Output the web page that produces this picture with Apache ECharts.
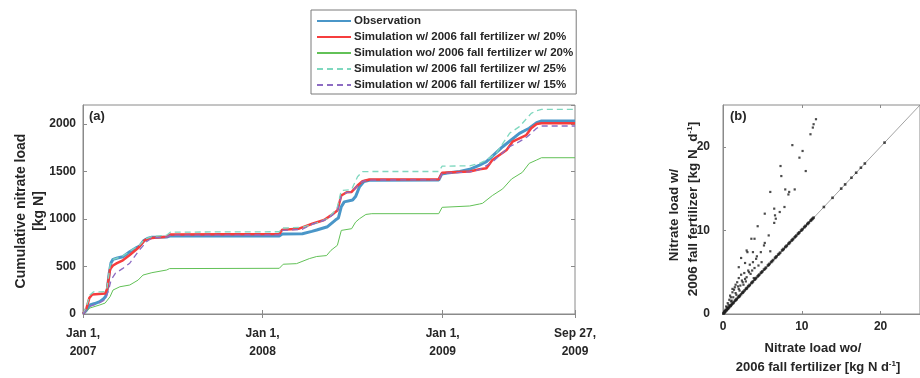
<!DOCTYPE html>
<html>
<head>
<meta charset="utf-8">
<script src="https://cdn.jsdelivr.net/npm/echarts@6/dist/echarts.min.js"></script>
<style>
  html, body { margin: 0; padding: 0; background: #fff; }
  #chart { width: 920px; height: 378px; }
</style>
</head>
<body>
<div id="chart"></div>
<script>
// ---- Panel (a): cumulative nitrate load [kg N], [date, value] ----
const observation = [
  ['2007-01-01', 0], ['2007-01-08', 40], ['2007-01-15', 95], ['2007-01-25', 110],
  ['2007-02-04', 130], ['2007-02-12', 160], ['2007-02-16', 185], ['2007-02-19', 240],
  ['2007-02-23', 420], ['2007-02-27', 540], ['2007-03-03', 575], ['2007-03-12', 590],
  ['2007-03-23', 603], ['2007-04-06', 656], ['2007-04-20', 700], ['2007-04-26', 715],
  ['2007-05-04', 770], ['2007-05-12', 795], ['2007-05-21', 808], ['2007-06-20', 810],
  ['2007-06-28', 822], ['2008-02-04', 822], ['2008-02-10', 842], ['2008-03-22', 845],
  ['2008-04-10', 870], ['2008-04-20', 884], ['2008-05-12', 919], ['2008-05-28', 989],
  ['2008-06-03', 1010], ['2008-06-09', 1129], ['2008-06-15', 1180], ['2008-07-02', 1200],
  ['2008-07-08', 1236], ['2008-07-16', 1340], ['2008-07-25', 1395], ['2008-08-05', 1408],
  ['2008-12-24', 1410], ['2008-12-30', 1472], ['2009-01-10', 1485], ['2009-02-05', 1500],
  ['2009-02-25', 1523], ['2009-03-17', 1568], ['2009-03-31', 1603], ['2009-05-03', 1761],
  ['2009-06-06', 1902], ['2009-06-26', 1955], ['2009-07-11', 2015], ['2009-07-21', 2032],
  ['2009-09-27', 2032]
];
const simFall20 = [
  ['2007-01-01', 0], ['2007-01-08', 60], ['2007-01-14', 170], ['2007-01-20', 205],
  ['2007-02-15', 215], ['2007-02-19', 260], ['2007-02-25', 470], ['2007-03-03', 510],
  ['2007-03-11', 535], ['2007-03-23', 565], ['2007-04-06', 621], ['2007-04-23', 694],
  ['2007-05-07', 779], ['2007-05-21', 800], ['2007-06-20', 814], ['2007-06-28', 838],
  ['2008-02-04', 842], ['2008-02-10', 888], ['2008-03-15', 898], ['2008-04-11', 950],
  ['2008-05-05', 989], ['2008-05-19', 1038], ['2008-06-01', 1090], ['2008-06-09', 1247],
  ['2008-06-20', 1282], ['2008-06-30', 1285], ['2008-07-12', 1352], ['2008-07-22', 1397],
  ['2008-08-05', 1415], ['2008-12-24', 1418], ['2008-12-31', 1488], ['2009-02-25', 1500],
  ['2009-03-17', 1523], ['2009-03-31', 1535], ['2009-04-12', 1621], ['2009-05-11', 1726],
  ['2009-05-23', 1814], ['2009-06-20', 1884], ['2009-06-30', 1955], ['2009-07-11', 2000],
  ['2009-07-21', 2007], ['2009-09-27', 2007]
];
const simNoFall20 = [
  ['2007-01-01', 0], ['2007-01-15', 63], ['2007-02-04', 95], ['2007-02-15', 115],
  ['2007-02-25', 182], ['2007-03-03', 252], ['2007-03-17', 287], ['2007-04-06', 305],
  ['2007-04-23', 357], ['2007-05-03', 410], ['2007-05-21', 435], ['2007-06-20', 463],
  ['2007-06-26', 478], ['2008-02-04', 481], ['2008-02-12', 524], ['2008-03-10', 530],
  ['2008-04-05', 583], ['2008-04-20', 605], ['2008-05-10', 615], ['2008-05-19', 670],
  ['2008-06-01', 723], ['2008-06-09', 880], ['2008-06-30', 898], ['2008-07-08', 967],
  ['2008-07-16', 1003], ['2008-07-29', 1048], ['2008-08-10', 1056], ['2008-12-24', 1056],
  ['2008-12-31', 1123], ['2009-02-25', 1137], ['2009-03-17', 1158], ['2009-03-23', 1165],
  ['2009-04-12', 1247], ['2009-05-03', 1317], ['2009-05-21', 1421], ['2009-06-12', 1491],
  ['2009-06-26', 1586], ['2009-07-11', 1621], ['2009-07-21', 1645], ['2009-09-27', 1645]
];
const simFall25 = [
  ['2007-01-01', 0], ['2007-01-08', 80], ['2007-01-15', 200], ['2007-01-22', 232],
  ['2007-02-15', 236], ['2007-02-19', 280], ['2007-02-25', 510], ['2007-03-03', 575],
  ['2007-03-23', 610], ['2007-04-06', 660], ['2007-04-26', 725], ['2007-05-07', 790],
  ['2007-05-21', 815], ['2007-06-20', 830], ['2007-06-28', 862], ['2008-02-04', 866],
  ['2008-02-10', 905], ['2008-03-22', 912], ['2008-04-20', 960], ['2008-05-12', 1005],
  ['2008-05-31', 1105], ['2008-06-09', 1300], ['2008-06-30', 1310], ['2008-07-12', 1445],
  ['2008-07-22', 1498], ['2008-08-05', 1500], ['2008-12-24', 1500], ['2008-12-31', 1556],
  ['2009-02-25', 1560], ['2009-03-17', 1586], ['2009-03-31', 1621], ['2009-04-20', 1691],
  ['2009-05-17', 1902], ['2009-06-06', 1972], ['2009-06-30', 2112], ['2009-07-11', 2140],
  ['2009-07-21', 2155], ['2009-09-27', 2155]
];
const simFall15 = [
  ['2007-01-01', 0], ['2007-01-15', 80], ['2007-02-04', 120], ['2007-02-15', 150],
  ['2007-02-22', 250], ['2007-02-27', 357], ['2007-03-08', 430], ['2007-03-23', 480],
  ['2007-04-06', 535], ['2007-04-23', 656], ['2007-05-10', 761], ['2007-05-21', 800],
  ['2007-06-20', 810], ['2007-06-28', 830], ['2008-02-04', 832], ['2008-02-10', 880],
  ['2008-03-22', 892], ['2008-04-11', 945], ['2008-05-05', 985], ['2008-05-19', 1030],
  ['2008-06-01', 1085], ['2008-06-09', 1240], ['2008-06-20', 1280], ['2008-06-30', 1285],
  ['2008-07-12', 1350], ['2008-07-22', 1395], ['2008-08-05', 1410], ['2008-12-24', 1412],
  ['2008-12-31', 1480], ['2009-02-25', 1495], ['2009-03-17', 1520], ['2009-04-12', 1600],
  ['2009-05-17', 1761], ['2009-06-06', 1814], ['2009-06-22', 1866], ['2009-07-11', 1955],
  ['2009-07-21', 1979], ['2009-09-27', 1979]
];

const seriesNames = [
  'Observation',
  'Simulation w/ 2006 fall fertilizer w/ 20%',
  'Simulation wo/ 2006 fall fertilizer w/ 20%',
  'Simulation w/ 2006 fall fertilizer w/ 25%',
  'Simulation w/ 2006 fall fertilizer w/ 15%'
];

const xTickDates = ['2007-01-01', '2008-01-01', '2009-01-01', '2009-09-27'];
const xTickLabels = ['Jan 1,\n2007', 'Jan 1,\n2008', 'Jan 1,\n2009', 'Sep 27,\n2009'];

// ---- Panel (b): daily nitrate load w/ vs wo/ 2006 fall fertilizer [kg N d-1] ----
const loadAbove = [
  [11.8, 23.3], [11.5, 22.7], [11.4, 22.3], [11.1, 21.5], [8.8, 20.2], [10.1, 19.5],
  [9.7, 18.7], [10.5, 17.1], [7.3, 17.7], [7.4, 16.5], [6.0, 14.6], [7.9, 14.9],
  [8.4, 14.6], [8.3, 14.3], [9.1, 14.9], [5.3, 12.0], [6.5, 12.6], [7.2, 12.2],
  [7.8, 12.8], [6.6, 11.8], [6.7, 11.4], [6.5, 10.9], [4.4, 10.5], [5.8, 9.4],
  [3.6, 9.0], [4.0, 9.0], [5.3, 8.5], [5.2, 8.2], [3.0, 7.6], [3.1, 7.4],
  [3.8, 7.4], [4.8, 7.4], [6.0, 7.5], [4.3, 6.9], [4.2, 6.6], [3.8, 6.2],
  [4.9, 6.2], [2.3, 6.7], [2.8, 6.1], [2.0, 5.6], [3.4, 5.9], [4.0, 5.5],
  [3.2, 5.2], [3.3, 5.0], [2.7, 4.9], [3.9, 4.3], [2.3, 4.7], [1.0, 2.0],
  [1.2, 2.6], [1.5, 3.2], [1.8, 3.8], [0.8, 1.7], [0.6, 1.3], [0.4, 0.9],
  [1.6, 2.5], [2.0, 3.0], [2.2, 3.4], [2.5, 3.8], [1.3, 2.0], [1.0, 1.5],
  [0.7, 1.1], [2.8, 4.2], [2.4, 4.0], [1.9, 3.3], [3.5, 4.8], [3.0, 4.4],
  [1.4, 2.9], [2.6, 3.5], [2.1, 2.8], [1.7, 2.3], [1.1, 1.6], [0.5, 0.8],
  [0.3, 0.5], [0.2, 0.35], [0.9, 2.2], [1.2, 3.0], [3.7, 5.2], [4.5, 5.8],
  [2.9, 3.9], [2.0, 4.3], [1.6, 3.5]
];
const loadOnLine = [
  [0.05, 0.05], [0.1, 0.11], [0.15, 0.16], [0.2, 0.21], [0.3, 0.32], [0.4, 0.42],
  [0.5, 0.53], [0.6, 0.62], [0.7, 0.73], [0.8, 0.83], [0.9, 0.94], [1.0, 1.04],
  [1.1, 1.14], [1.2, 1.25], [1.35, 1.39], [1.5, 1.56], [1.6, 1.65], [1.75, 1.81],
  [1.9, 1.96], [2.0, 2.07], [2.15, 2.22], [2.3, 2.37], [2.45, 2.53], [2.6, 2.68],
  [2.75, 2.83], [2.9, 2.99], [3.05, 3.13], [3.2, 3.3], [3.4, 3.49], [3.6, 3.7],
  [3.8, 3.9], [4.0, 4.1], [4.2, 4.31], [4.4, 4.5], [4.6, 4.71], [4.8, 4.91],
  [5.0, 5.1], [5.2, 5.31], [5.45, 5.55], [5.7, 5.8], [5.9, 6.0], [6.1, 6.2],
  [6.35, 6.45], [6.6, 6.7], [6.8, 6.9], [7.0, 7.1], [7.25, 7.34], [7.5, 7.6],
  [7.7, 7.79], [7.9, 8.0], [8.1, 8.19], [8.3, 8.39], [8.5, 8.6], [8.7, 8.78],
  [8.9, 8.98], [9.1, 9.18], [9.3, 9.38], [9.5, 9.58], [9.7, 9.77], [9.9, 9.97],
  [10.1, 10.16], [10.3, 10.36], [10.5, 10.56], [10.7, 10.75], [10.9, 10.95],
  [11.1, 11.15], [11.3, 11.34], [11.5, 11.53], [12.8, 12.8], [13.9, 13.9],
  [15.0, 15.0], [15.5, 15.5], [16.3, 16.3], [16.9, 16.9], [17.5, 17.5],
  [18.0, 18.0], [20.5, 20.5],
  [0.25, 0.27], [0.45, 0.48], [0.65, 0.68], [0.95, 0.98], [1.28, 1.31], [1.68, 1.72],
  [2.08, 2.12], [2.52, 2.58], [2.98, 3.04], [3.3, 3.38], [3.7, 3.78], [4.1, 4.2],
  [4.5, 4.6], [4.9, 5.0], [5.33, 5.41], [5.8, 5.89], [6.22, 6.31], [6.7, 6.79],
  [7.12, 7.2], [7.6, 7.69], [8.0, 8.08], [8.4, 8.48], [8.8, 8.87], [9.2, 9.27],
  [9.6, 9.67], [10.0, 10.06], [10.4, 10.46], [10.8, 10.85], [11.2, 11.24], [11.4, 11.43]
];
const oneToOne = [[0, 0], [25, 25]];

const FONT = '"Liberation Sans", Arial, Helvetica, sans-serif';
const AXIS_GREY = '#8a8a8a';
const TEXT = '#262626';

const toTime = s => Date.parse(s + 'T00:00:00Z');
const toPoints = arr => arr.map(([d, v]) => [toTime(d), v]);
const xTickValues = xTickDates.map(toTime);

const tickLabelStyle = { color: TEXT, fontFamily: FONT, fontWeight: 'bold', fontSize: 12 };
const plainNumber = v => String(v);

const chart = echarts.init(document.getElementById('chart'), null, { renderer: 'canvas' });

const lineCommon = { type: 'line', symbol: 'none', showSymbol: false, xAxisIndex: 0, yAxisIndex: 0, animation: false };

chart.setOption({
  animation: false,
  backgroundColor: '#fff',
  grid: [
    { left: 83, top: 105, width: 492, height: 209, show: true, borderColor: AXIS_GREY, borderWidth: 1, backgroundColor: 'transparent' },
    { left: 723, top: 105, width: 200, height: 209, show: true, borderColor: AXIS_GREY, borderWidth: 1, backgroundColor: 'transparent' }
  ],
  legend: {
    left: 311, top: 10, orient: 'vertical',
    itemWidth: 34, itemHeight: 14, itemGap: 2,
    padding: [4, 3, 2, 5],
    borderColor: '#7a7a7a', borderWidth: 1, backgroundColor: '#fff',
    itemStyle: { opacity: 0 },
    textStyle: { color: TEXT, fontFamily: FONT, fontWeight: 'bold', fontSize: 11.5, lineHeight: 14, padding: [0, 0, 0, -2] },
    data: seriesNames
  },
  xAxis: [
    {
      gridIndex: 0, type: 'value', min: toTime('2007-01-01'), max: toTime('2009-09-27'),
      axisLine: { lineStyle: { color: AXIS_GREY } },
      axisTick: { inside: true, length: 4, customValues: xTickValues, lineStyle: { color: AXIS_GREY } },
      axisLabel: Object.assign({}, tickLabelStyle, {
        customValues: xTickValues, margin: 11, lineHeight: 18,
        formatter: v => xTickLabels[xTickValues.indexOf(v)] || ''
      }),
      splitLine: { show: false }
    },
    {
      gridIndex: 0, type: 'value', position: 'top', min: toTime('2007-01-01'), max: toTime('2009-09-27'),
      axisLine: { show: false },
      axisTick: { inside: true, length: 4, customValues: xTickValues, lineStyle: { color: AXIS_GREY } },
      axisLabel: { show: false }, splitLine: { show: false }
    },
    {
      gridIndex: 1, type: 'value', min: 0, max: 25, interval: 10,
      axisLine: { lineStyle: { color: AXIS_GREY } },
      axisTick: { inside: true, length: 3, lineStyle: { color: AXIS_GREY } },
      axisLabel: Object.assign({}, tickLabelStyle, { margin: 7, showMaxLabel: false, formatter: plainNumber }),
      splitLine: { show: false }
    },
    {
      gridIndex: 1, type: 'value', position: 'top', min: 0, max: 25, interval: 10,
      axisLine: { show: false },
      axisTick: { inside: true, length: 3, lineStyle: { color: AXIS_GREY } },
      axisLabel: { show: false }, splitLine: { show: false }
    }
  ],
  yAxis: [
    {
      gridIndex: 0, type: 'value', min: 0, max: 2200, interval: 500,
      axisLine: { show: true, lineStyle: { color: AXIS_GREY } },
      axisTick: { show: true, inside: true, length: 4, lineStyle: { color: AXIS_GREY } },
      axisLabel: Object.assign({}, tickLabelStyle, { margin: 7, showMaxLabel: false, formatter: plainNumber }),
      splitLine: { show: false }
    },
    {
      gridIndex: 0, type: 'value', position: 'right', min: 0, max: 2200, interval: 500,
      axisLine: { show: false },
      axisTick: { show: true, inside: true, length: 4, lineStyle: { color: AXIS_GREY } },
      axisLabel: { show: false }, splitLine: { show: false }
    },
    {
      gridIndex: 1, type: 'value', min: 0, max: 25, interval: 10,
      axisLine: { show: true, lineStyle: { color: AXIS_GREY } },
      axisTick: { show: true, inside: true, length: 3, lineStyle: { color: AXIS_GREY } },
      axisLabel: Object.assign({}, tickLabelStyle, { margin: 13, showMaxLabel: false, formatter: plainNumber }),
      splitLine: { show: false }
    }
  ],
  series: [
    Object.assign({}, lineCommon, {
      name: seriesNames[0], data: toPoints(observation), z: 2,
      color: '#4a96c8', lineStyle: { color: '#4a96c8', width: 3 }
    }),
    Object.assign({}, lineCommon, {
      name: seriesNames[1], data: toPoints(simFall20), z: 3,
      color: '#f63d3d', lineStyle: { color: '#f63d3d', width: 2.5 }
    }),
    Object.assign({}, lineCommon, {
      name: seriesNames[2], data: toPoints(simNoFall20), z: 3,
      color: '#62c157', lineStyle: { color: '#62c157', width: 1 }
    }),
    Object.assign({}, lineCommon, {
      name: seriesNames[3], data: toPoints(simFall25), z: 4,
      color: '#7fd8bf', lineStyle: { color: '#7fd8bf', width: 1.3, type: [6, 4] }
    }),
    Object.assign({}, lineCommon, {
      name: seriesNames[4], data: toPoints(simFall15), z: 4,
      color: '#8d6cc3', lineStyle: { color: '#8d6cc3', width: 1.3, type: [6, 4] }
    }),
    {
      type: 'line', name: '1:1', data: oneToOne, xAxisIndex: 2, yAxisIndex: 2,
      symbol: 'none', lineStyle: { color: '#8c8c8c', width: 0.8 }, z: 1, silent: true
    },
    {
      type: 'scatter', name: 'daily-diag', data: loadOnLine, xAxisIndex: 2, yAxisIndex: 2,
      symbol: 'rect', symbolSize: 2.6, itemStyle: { color: '#1e1e1e' }, z: 2
    },
    {
      type: 'scatter', name: 'daily-above', data: loadAbove, xAxisIndex: 2, yAxisIndex: 2,
      symbol: 'rect', symbolSize: 2.2, itemStyle: { color: '#1e1e1e' }, z: 2
    }
  ],
  graphic: [
    { type: 'text', left: 89, top: 110, style: { text: '(a)', fill: TEXT, font: 'bold 13px ' + FONT } },
    { type: 'text', left: 730, top: 110, style: { text: '(b)', fill: TEXT, font: 'bold 13px ' + FONT } },
    {
      type: 'text', x: 21, y: 211, rotation: Math.PI / 2,
      style: { text: 'Cumulative nitrate load', fill: TEXT, font: 'bold 14px ' + FONT, align: 'center', verticalAlign: 'middle' }
    },
    {
      type: 'text', x: 39, y: 211, rotation: Math.PI / 2,
      style: { text: '[kg N]', fill: TEXT, font: 'bold 14px ' + FONT, align: 'center', verticalAlign: 'middle' }
    },
    {
      type: 'text', x: 674, y: 215, rotation: Math.PI / 2,
      style: { text: 'Nitrate load w/', fill: TEXT, font: 'bold 13.5px ' + FONT, align: 'center', verticalAlign: 'middle' }
    },
    {
      type: 'text', x: 693, y: 209, rotation: Math.PI / 2,
      style: {
        text: '2006 fall fertilizer [kg N  d{sup|-1}]', fill: TEXT, font: 'bold 13.5px ' + FONT,
        align: 'center', verticalAlign: 'middle',
        rich: { sup: { fontSize: 8, fontWeight: 'bold', fontFamily: FONT, fill: TEXT, verticalAlign: 'top', padding: [0, 0, 6, 0] } }
      }
    },
    {
      type: 'text', x: 813, y: 348,
      style: { text: 'Nitrate load wo/', fill: TEXT, font: 'bold 13px ' + FONT, align: 'center', verticalAlign: 'middle' }
    },
    {
      type: 'text', x: 818, y: 367,
      style: {
        text: '2006 fall fertilizer [kg N d{sup|-1}]', fill: TEXT, font: 'bold 13px ' + FONT,
        align: 'center', verticalAlign: 'middle',
        rich: { sup: { fontSize: 8, fontWeight: 'bold', fontFamily: FONT, fill: TEXT, verticalAlign: 'top', padding: [0, 0, 6, 0] } }
      }
    }
  ]
});
</script>
</body>
</html>
